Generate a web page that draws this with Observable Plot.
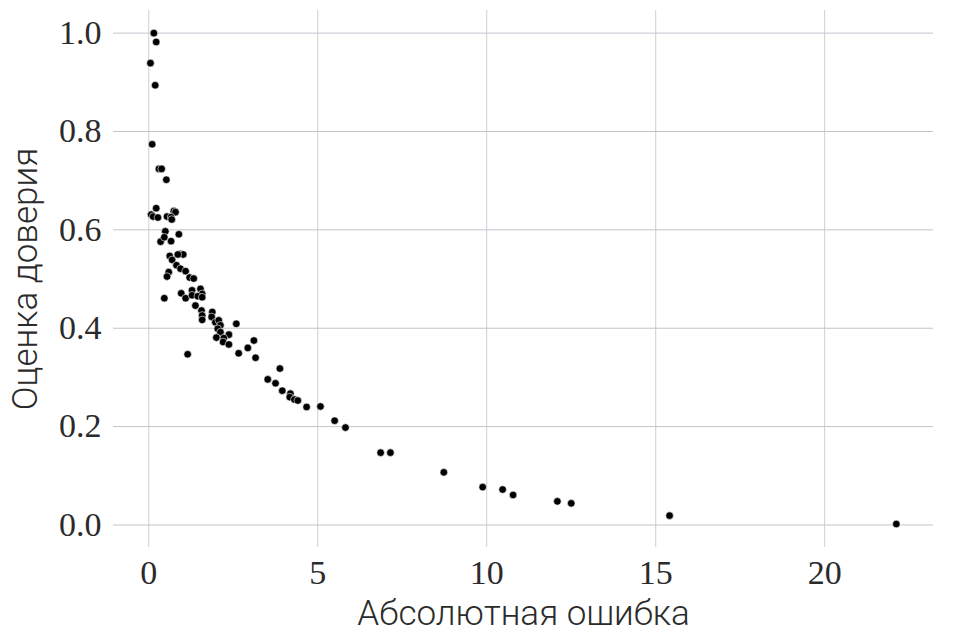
<!DOCTYPE html>
<html>
<head>
<meta charset="utf-8">
<script src="https://cdn.jsdelivr.net/npm/d3@7"></script>
<script src="https://cdn.jsdelivr.net/npm/@observablehq/plot@0.6"></script>
<style>
  html, body { margin: 0; padding: 0; background: #ffffff; }
  svg { display: block; }
</style>
</head>
<body>
<div id="chart"></div>
<script>
const absErrors = [
  0.15, 0.22, 0.05, 0.19, 0.10, 0.30, 0.38, 0.52,
  0.07, 0.22, 0.13, 0.27, 0.54, 0.74, 0.79, 0.66, 0.68,
  0.49, 0.89, 0.35, 0.46, 0.66, 0.62, 0.94, 1.02, 0.86,
  0.69, 0.82, 0.94, 1.09, 0.59, 0.54, 1.21, 1.33,
  1.53, 1.28, 0.96, 1.58, 1.09, 1.28, 1.45, 1.58, 0.46,
  1.38, 1.56, 1.88, 1.58, 1.58, 1.86, 1.97, 2.07, 2.12,
  2.04, 2.59, 2.12, 2.37, 2.00, 2.22, 2.20, 2.37, 3.11,
  2.93, 2.66, 3.16, 1.15, 3.88, 3.52, 3.75, 3.95, 4.19,
  4.17, 4.31, 4.41, 4.67, 5.08, 5.50, 5.82, 6.86, 7.15,
  8.73, 9.88, 10.47, 10.78, 12.09, 12.50, 15.41, 22.12
];
const confidence = [
  1.000, 0.982, 0.939, 0.894, 0.774, 0.724, 0.724, 0.702,
  0.631, 0.644, 0.627, 0.625, 0.627, 0.638, 0.636, 0.626, 0.621,
  0.597, 0.591, 0.576, 0.585, 0.577, 0.547, 0.551, 0.550, 0.550,
  0.539, 0.528, 0.521, 0.516, 0.514, 0.505, 0.503, 0.501,
  0.480, 0.477, 0.471, 0.470, 0.461, 0.467, 0.465, 0.463, 0.461,
  0.446, 0.436, 0.433, 0.426, 0.417, 0.423, 0.412, 0.416, 0.406,
  0.399, 0.409, 0.392, 0.387, 0.381, 0.380, 0.372, 0.367, 0.375,
  0.360, 0.349, 0.340, 0.347, 0.318, 0.296, 0.288, 0.273, 0.267,
  0.260, 0.255, 0.253, 0.240, 0.241, 0.212, 0.198, 0.147, 0.147,
  0.107, 0.077, 0.072, 0.061, 0.048, 0.044, 0.019, 0.002
];
const xTicks = [0, 5, 10, 15, 20];
const yTicks = [0.0, 0.2, 0.4, 0.6, 0.8, 1.0];
const xLabel = "Абсолютная ошибка";
const yLabel = "Оценка доверия";

const points = absErrors.map((e, i) => ({error: e, conf: confidence[i]}));

const tickFont = "'Liberation Serif', 'DejaVu Serif', serif";
const labelFont = "Roboto, 'Liberation Sans', sans-serif";

const chart = Plot.plot({
  width: 967,
  height: 637,
  marginLeft: 113,
  marginRight: 34,
  marginTop: 10,
  marginBottom: 90,
  style: {background: "#ffffff", color: "#2b2b2b", fontFamily: tickFont},
  x: {domain: [-1.044, 23.22]},
  y: {domain: [-0.0458, 1.046]},
  marks: [
    Plot.gridX(xTicks, {stroke: "#cfcfd4", strokeOpacity: 1, strokeWidth: 1}),
    Plot.gridY(yTicks, {stroke: "#c2c4cc", strokeOpacity: 1, strokeWidth: 1}),
    Plot.axisX(xTicks, {tickSize: 0, tickPadding: 12, fontSize: 34, fontFamily: tickFont, label: null, tickFormat: d3.format("d")}),
    Plot.axisY(yTicks, {tickSize: 0, tickPadding: 12, fontSize: 34, fontFamily: tickFont, label: null, tickFormat: d3.format(".1f")}),
    Plot.dot(points, {x: "error", y: "conf", r: 3.8, fill: "#000000", stroke: "#ffffff", strokeWidth: 0.6}),
    Plot.text([xLabel], {frameAnchor: "bottom", dy: 77, lineAnchor: "bottom", textAnchor: "middle", fontSize: 35, fontWeight: 300, fontFamily: labelFont, fill: "#2b2b2b"}),
    Plot.text([yLabel], {frameAnchor: "left", dx: -77, rotate: -90, lineAnchor: "bottom", textAnchor: "middle", fontSize: 35, fontWeight: 300, fontFamily: labelFont, fill: "#2b2b2b"})
  ]
});
document.getElementById("chart").appendChild(chart);
</script>
</body>
</html>
